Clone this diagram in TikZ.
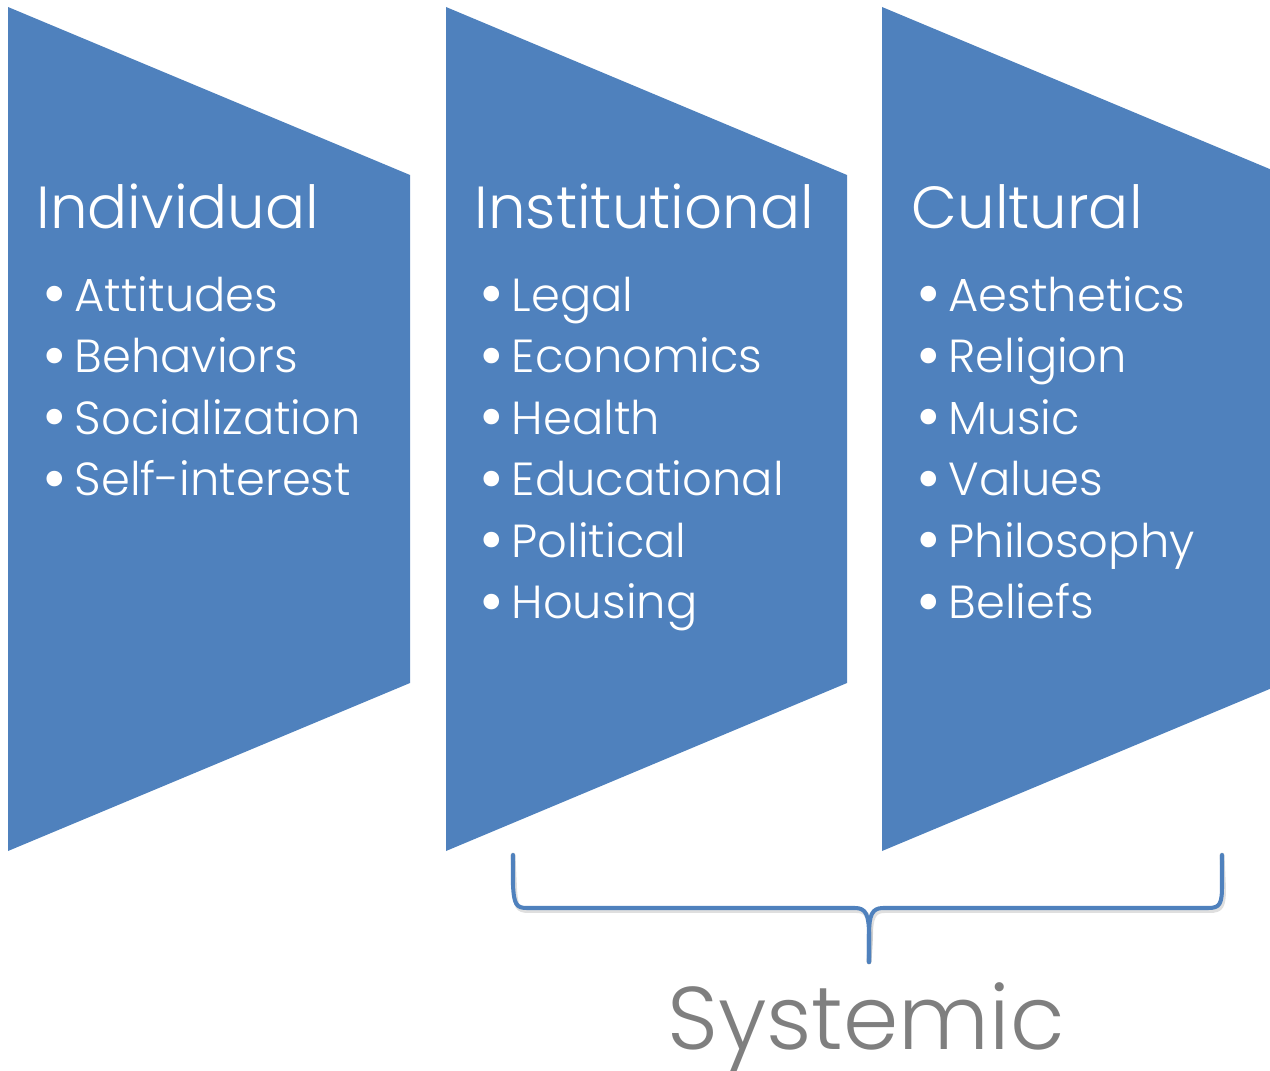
\documentclass[tikz,border=0pt]{standalone}
\usepackage{graphicx}
\usepackage{fontspec}
\setmainfont{Poppins}[UprightFont={* Light}]
\usetikzlibrary{positioning}
\definecolor{panelblue}{HTML}{4F81BD}
\definecolor{labelgray}{HTML}{7F7F7F}
\newcommand{\itembullet}{\makebox[0.32cm][l]{\raisebox{-0.12em}{\scalebox{1.45}{\textbullet}}}}

\begin{document}
\begin{tikzpicture}[%
panel/.style = {fill=panelblue},
heading/.style = {anchor=base west, inner sep=0pt, text=white, font=\fontsize{16.9pt}{16.9pt}\selectfont},
bulletitem/.style = {anchor=base west, inner sep=0pt, text=white, font=\fontsize{13.2pt}{13.2pt}\selectfont},
bracket/.style = {draw=panelblue, line width=1.15pt, line cap=round, line join=round},
bracket shadow/.style = {draw=black!25, line width=1.4pt, line cap=round, opacity=0.5}]
\useasboundingbox (0,0) rectangle (12.7,10.7);

% the three panels
\fill[panel] (0.08,10.63) -- (4.10,8.95) -- (4.10,3.87) -- (0.08,2.19) -- cycle;
\fill[panel] (4.46,10.63) -- (8.47,8.95) -- (8.47,3.87) -- (4.46,2.19) -- cycle;
\fill[panel] (8.82,10.63) -- (12.84,8.95) -- (12.84,3.87) -- (8.82,2.19) -- cycle;

\node[heading] (indiv) at (0.36,8.42) {Individual};
\node[heading] (instit) at (4.74,8.42) {Institutional};
\node[heading] (cult) at (9.11,8.42) {Cultural};

\foreach \txt [count=\i] in {Attitudes,Behaviors,Socialization,Self-interest}
  \node[bulletitem] (indiv\i) at (0.42,{7.59-0.615*(\i-1)}) {\itembullet\txt};
\foreach \txt [count=\i] in {Legal,Economics,Health,Educational,Political,Housing}
  \node[bulletitem] (instit\i) at (4.79,{7.59-0.615*(\i-1)}) {\itembullet\txt};
\foreach \txt [count=\i] in {Aesthetics,Religion,Music,Values,Philosophy,Beliefs}
  \node[bulletitem] (cult\i) at (9.16,{7.59-0.615*(\i-1)}) {\itembullet\txt};

% brace under the last two panels
\coordinate (bl) at (5.13,2.15);
\coordinate (tip) at (8.69,1.08);
\coordinate (br) at (12.22,2.15);
\draw[bracket shadow, shift={(0.015,-0.025)}] (bl) -- (5.13,1.85) .. controls (5.14,1.66) and (5.16,1.62) .. (5.27,1.62) -- (8.55,1.62) .. controls (8.66,1.62) and (8.69,1.55) .. (8.69,1.35) -- (tip);
\draw[bracket shadow, shift={(0.015,-0.025)}] (tip) -- (8.69,1.35) .. controls (8.69,1.55) and (8.72,1.62) .. (8.83,1.62) -- (12.08,1.62) .. controls (12.20,1.62) and (12.22,1.66) .. (12.22,1.85) -- (br);
\draw[bracket] (bl) -- (5.13,1.85) .. controls (5.14,1.66) and (5.16,1.62) .. (5.27,1.62) -- (8.55,1.62) .. controls (8.66,1.62) and (8.69,1.55) .. (8.69,1.35) -- (tip);
\draw[bracket] (tip) -- (8.69,1.35) .. controls (8.69,1.55) and (8.72,1.62) .. (8.83,1.62) -- (12.08,1.62) .. controls (12.20,1.62) and (12.22,1.66) .. (12.22,1.85) -- (br);

\node[anchor=base, inner sep=0pt, text=labelgray, font=\fontsize{25.3pt}{25.3pt}\selectfont] (sys) at (8.66,0.21) {Systemic};
\end{tikzpicture}
\end{document}
